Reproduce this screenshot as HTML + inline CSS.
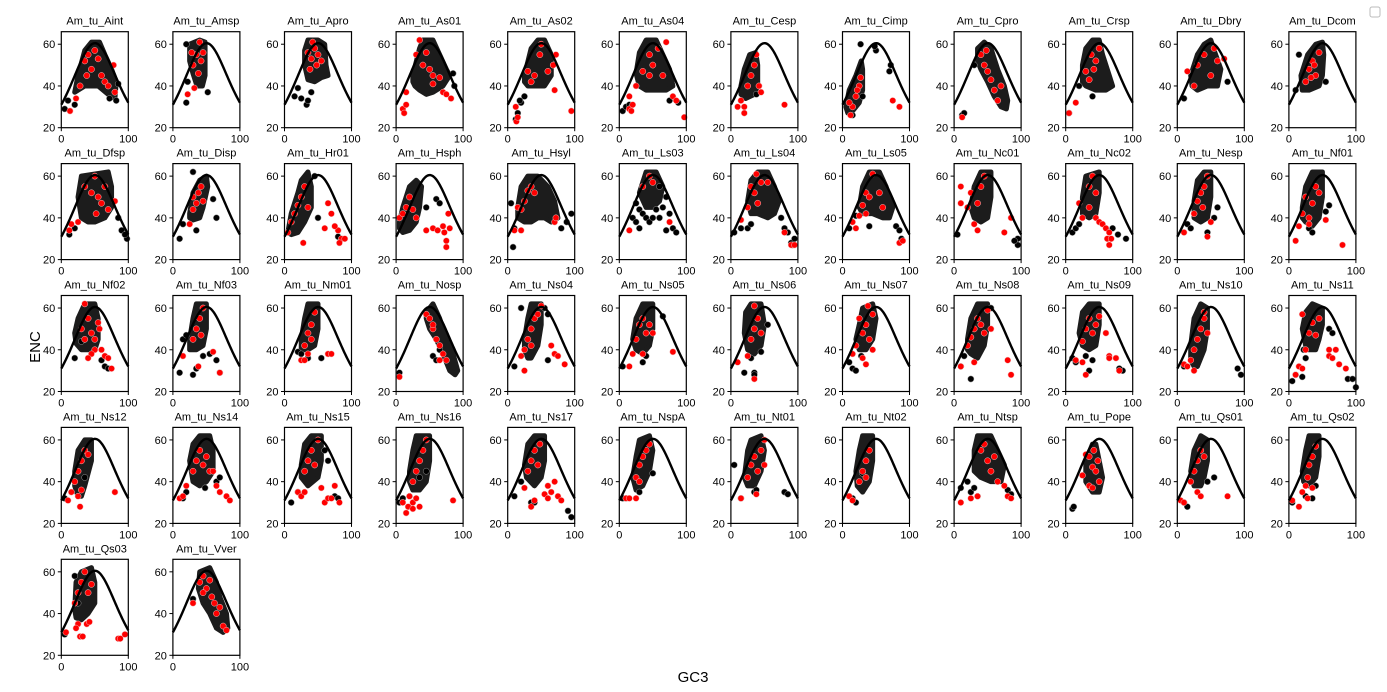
<!DOCTYPE html>
<html><head><meta charset="utf-8"><style>
html,body{margin:0;padding:0;background:#fff;}
svg{display:block;font-family:"Liberation Sans","DejaVu Sans",sans-serif;}
</style></head><body>
<svg id="chart" width="1387" height="692" viewBox="0 0 1387 692" xmlns="http://www.w3.org/2000/svg">
<rect x="1370" y="7" width="10" height="10" rx="2" fill="#fff" stroke="#bbb"/>
<text x="40" y="347" font-size="15" text-anchor="middle" transform="rotate(-90 40 347)">ENC</text>
<text x="693" y="682" font-size="15" text-anchor="middle">GC3</text>
</svg>
<script>
const panelNames = ["Am_tu_Aint","Am_tu_Amsp","Am_tu_Apro","Am_tu_As01","Am_tu_As02","Am_tu_As04","Am_tu_Cesp","Am_tu_Cimp","Am_tu_Cpro","Am_tu_Crsp","Am_tu_Dbry","Am_tu_Dcom",
"Am_tu_Dfsp","Am_tu_Disp","Am_tu_Hr01","Am_tu_Hsph","Am_tu_Hsyl","Am_tu_Ls03","Am_tu_Ls04","Am_tu_Ls05","Am_tu_Nc01","Am_tu_Nc02","Am_tu_Nesp","Am_tu_Nf01",
"Am_tu_Nf02","Am_tu_Nf03","Am_tu_Nm01","Am_tu_Nosp","Am_tu_Ns04","Am_tu_Ns05","Am_tu_Ns06","Am_tu_Ns07","Am_tu_Ns08","Am_tu_Ns09","Am_tu_Ns10","Am_tu_Ns11",
"Am_tu_Ns12","Am_tu_Ns14","Am_tu_Ns15","Am_tu_Ns16","Am_tu_Ns17","Am_tu_NspA","Am_tu_Nt01","Am_tu_Nt02","Am_tu_Ntsp","Am_tu_Pope","Am_tu_Qs01","Am_tu_Qs02",
"Am_tu_Qs03","Am_tu_Vver"];
const denseCores = [
"25,45 35,57 45,61 57,61 65,55 75,48 82,42 80,34 70,36 55,40 45,40 35,40 25,38 20,37",
"25,60 40,62 48,61 48,45 44,40 36,40 30,46 25,52",
"30,57 35,62 50,62 60,60 62,50 65,45 55,44 45,42 35,43 30,50",
"25,45 35,58 40,62 55,62 65,55 75,48 80,45 70,40 55,37 45,36 35,38 28,40 25,42",
"25,45 35,58 45,62 55,62 65,55 65,45 55,40 40,40 30,40 25,42",
"25,46 30,56 40,62 55,62 65,55 75,48 80,40 70,38 55,38 40,38 30,40",
"15,40 20,48 28,55 37,56 40,50 40,40 35,36 22,34 15,36",
"5,30 10,38 20,45 28,52 30,48 30,38 25,32 15,28 8,27",
"35,58 45,61 55,58 65,48 75,40 80,33 78,29 70,30 60,35 50,42 40,48 35,52",
"25,50 30,58 40,62 50,62 55,55 65,45 70,40 60,38 45,38 30,40 25,42",
"20,45 30,55 40,60 50,62 55,57 65,48 60,40 45,40 30,38 22,40",
"18,45 28,55 40,60 50,61 52,55 50,45 45,40 30,38 20,38",
"25,50 30,60 70,62 75,55 75,45 65,40 50,38 40,38 30,40",
"25,42 30,52 40,58 50,60 52,55 45,45 40,40 30,39 25,40",
"5,33 10,42 20,52 25,58 35,62 40,55 40,45 30,38 20,33 10,32",
"5,38 10,45 20,55 30,58 38,55 35,45 30,38 20,34 10,33 5,35",
"15,45 20,55 30,60 45,60 60,55 70,48 75,40 65,38 55,40 45,40 35,38 25,38 15,40",
"30,52 40,62 55,62 65,55 60,48 50,45 40,45",
"25,48 30,58 40,62 55,62 65,55 72,48 65,42 55,40 40,42 30,42",
"25,45 30,55 40,62 55,62 65,55 75,45 70,40 60,40 45,42 30,42",
"25,45 30,55 40,62 55,62 55,50 50,40 40,38 30,40",
"25,50 30,60 50,62 50,52 45,42 35,40 25,42",
"25,48 30,58 40,62 50,62 50,50 45,40 35,38 25,40",
"20,45 25,55 35,62 50,62 50,50 45,40 35,36 25,38 20,40",
"20,48 25,55 35,62 50,62 55,55 55,45 50,40 40,40 30,40 22,43",
"25,45 30,55 35,62 50,62 50,50 45,42 35,40 25,40",
"25,45 30,55 35,62 50,62 50,50 45,42 35,40 25,40",
"45,58 55,62 65,55 75,45 85,38 92,30 88,28 80,30 70,38 60,45 50,50 45,55",
"25,45 30,55 35,62 50,62 50,52 45,42 35,36 30,36 25,40",
"20,45 25,55 35,62 50,62 50,50 45,42 35,38 25,40",
"20,48 22,58 30,62 45,62 50,52 45,42 35,38 25,40",
"20,45 25,52 30,60 45,62 50,55 45,45 35,40 25,40",
"20,45 25,55 35,62 50,62 50,52 45,42 35,36 25,38 20,40",
"20,48 25,58 35,62 50,62 50,52 45,42 35,40 25,42",
"20,42 25,55 35,62 45,60 45,50 40,40 30,32 25,32 20,35",
"20,50 25,58 35,62 50,60 50,52 45,45 40,40 30,40 25,42",
"20,45 25,55 35,60 45,60 45,50 35,38 30,33 25,33 20,38",
"25,50 30,58 40,62 55,62 60,55 60,45 50,40 40,38 30,40",
"25,48 30,58 40,62 55,62 55,50 50,42 35,38 25,42",
"20,45 25,55 30,62 50,62 50,50 45,40 35,36 25,36 20,40",
"25,48 30,58 40,62 55,62 55,50 50,42 40,38 28,42",
"20,42 25,52 30,60 45,62 50,55 45,45 35,38 25,36",
"20,42 25,55 30,60 45,62 50,55 45,45 35,38 25,38",
"20,45 25,55 30,62 45,62 45,50 40,40 30,35 22,38",
"30,55 35,62 55,62 65,55 75,48 70,40 55,40 40,42 30,45",
"30,50 40,58 45,58 50,50 55,42 50,35 40,35 30,40",
"20,45 25,55 35,62 45,60 45,50 40,42 35,38 25,38",
"20,45 25,55 30,62 45,62 45,52 40,42 30,38 22,40",
"20,42 22,55 30,60 45,62 50,55 50,45 40,40 30,37 22,38",
"40,60 55,62 65,55 70,48 80,40 82,33 75,31 65,33 55,40 45,45 38,52"];
const blackPoints = [
"5,29 10,33 20,31 85,41 82,33 72,34",
"20,32 52,37 22,42 20,60",
"15,35 20,39 25,34 33,31 35,33 40,37",
"85,46 87,40",
"12,24 15,27 20,32 25,35 18,33",
"5,28 10,30 15,31 88,32 75,33",
"38,36",
"27,60 50,57 48,59 70,47 72,50 15,26 30,35",
"30,50 12,26 15,27",
"5,27 20,40 40,35",
"10,34 75,42",
"10,38 15,55 55,42",
"12,32 20,35 85,40 90,34 98,30 95,32",
"10,30 15,37 30,62 35,34 60,49 65,40",
"45,60 80,31 50,40",
"45,45 60,49 65,47",
"5,47 8,26 10,35 88,38 80,35 95,42",
"20,40 25,38 30,44 35,42 40,40 45,38 50,40 55,44 60,40 65,45 70,50 75,42 80,35 85,33 70,34 30,35 25,47 60,55",
"5,33 15,35 25,35 30,37 75,40 80,35 85,33 90,28 95,30 92,27",
"10,35 20,41 40,36 80,36 88,30 85,34",
"5,32 95,30 95,27 90,29",
"10,33 15,35 20,37 70,35 78,32 90,30",
"15,37 20,35 45,33 55,40 60,45",
"30,35 35,33 60,46 55,43",
"20,36 30,44 65,32 70,31 60,35",
"10,29 15,45 20,47 30,28 35,31 45,37 55,38 65,35 70,29",
"20,39 25,38 55,36 35,36",
"5,29 55,37 60,35 65,40",
"10,32 20,60 55,60 60,57 60,35",
"5,32 35,34 40,37 65,56",
"20,29 30,36 35,29 35,28 45,39 55,52",
"10,34 15,31 20,30 28,37",
"10,32 15,37 25,26 55,60",
"10,36 15,34 30,37 40,35 35,30 85,30 80,31",
"10,32 90,31 95,28",
"5,25 10,28 20,27 22,40 25,36 60,50 65,48 88,26 95,26 100,22",
"5,32 35,42",
"20,35 15,32 65,40 70,42 48,37",
"10,30 20,35 60,55 65,50 75,33 80,32",
"5,30 10,32 20,33 35,42 45,45",
"10,33 20,40 35,30 40,30 90,26 95,23",
"5,32 10,32 30,35 50,44",
"5,48 15,32 80,35 85,34 35,35 38,36",
"10,33 15,32 20,30 30,44",
"10,37 20,40 25,35 30,37 35,33 80,36 85,34",
"10,27 12,28",
"10,30 15,28 45,40 55,42",
"5,30 25,33 35,32 40,38",
"5,30 25,45 20,58",
"30,47"];
const redPoints = [
"13,28 22,34 28,40 35,52 40,55 45,48 50,57 55,53 60,45 65,42 70,40 78,50 80,37 38,45",
"22,36 32,39 30,50 35,55 38,46 42,52 45,56 40,61 28,56",
"35,56 40,53 45,58 48,50 42,61 50,55 38,48 55,52",
"10,29 12,27 15,31 15,37 30,55 35,62 40,50 45,56 50,48 55,45 65,44 70,37 75,36 82,34 55,41",
"12,30 13,23 15,25 30,47 40,45 48,55 50,60 60,47 68,50 72,55 70,38 95,28 35,42",
"15,29 18,28 20,31 15,35 25,40 35,47 45,55 50,50 58,58 65,45 70,61 80,35 85,33 97,25 45,45",
"10,30 15,33 20,30 20,27 25,40 30,45 35,50 38,55 42,40 80,31 45,37",
"12,26 15,30 20,35 25,40 27,44 22,38 75,33 85,30 10,32",
"12,25 40,55 45,50 50,47 55,43 60,38 65,33 70,40 48,57",
"5,27 15,32 30,47 38,55 45,52 42,48 35,43 50,58",
"15,47 25,40 30,50 40,55 50,45 55,58 60,52 70,53",
"25,42 30,48 35,52 40,45 45,56 38,50 33,44",
"12,34 15,37 25,38 35,55 45,52 50,60 55,50 60,47 65,55 70,44 80,48 52,42",
"25,37 30,44 35,47 38,52 42,55 30,50 45,48",
"5,33 10,38 15,42 20,46 25,50 30,55 35,45 28,28 65,47 70,42 60,35 80,34 85,30 90,30 82,28 75,36",
"5,40 10,42 15,45 20,50 25,44 30,40 45,34 55,35 62,34 70,36 72,33 75,29 75,26 78,42 80,35",
"10,34 15,45 20,44 25,48 30,53 35,55 40,52 20,34 70,38 72,40",
"15,34 35,55 45,60 50,57 75,38",
"15,39 25,45 30,55 35,52 38,61 45,57 40,47 55,57 80,33 90,27 95,27",
"15,38 20,35 25,41 30,46 35,52 40,50 45,61 55,52 60,45 85,28 90,29 35,42",
"10,47 10,55 20,45 25,52 35,47 40,55 45,60 30,37 35,34 75,33 85,40",
"20,47 25,40 35,55 40,60 45,52 35,45 45,40 50,38 55,37 60,35 65,33 62,30 68,30 65,27",
"10,33 25,42 30,48 35,52 40,55 45,60 38,45 50,38 45,31",
"10,29 15,36 20,42 25,50 30,40 35,47 40,55 45,52 30,37 55,39 80,27",
"35,62 30,50 35,45 40,55 45,48 50,45 55,53 57,50 50,40 45,38 40,36 60,40 65,37 70,36 75,31",
"15,37 30,45 35,50 40,55 45,60 42,47 38,32 60,39 70,29",
"25,35 30,35 30,42 35,48 40,52 45,58 40,45 35,38 65,38 70,38",
"5,27 45,57 50,55 55,50 60,45 65,42 70,38 75,35 55,52 65,35",
"20,37 25,40 25,30 30,45 35,50 40,55 45,57 50,61 35,42 65,42 70,38 75,37 85,33",
"15,32 20,38 25,45 30,52 35,55 40,48 45,52 35,38 50,48 80,39",
"10,34 25,37 30,45 35,50 40,55 45,48 35,61 35,26",
"15,38 20,42 25,55 30,48 35,52 40,45 45,57 35,33 30,36 38,61 45,40",
"10,32 20,42 25,46 30,50 35,55 40,52 45,48 50,59 55,50 80,35 85,28 30,34",
"15,35 25,44 30,50 35,55 40,48 45,52 50,56 60,48 65,37 65,36 75,36 80,30 30,28 25,34",
"10,33 15,32 20,35 25,30 25,40 30,45 35,50 40,55 45,48 40,58",
"10,28 15,32 20,31 20,57 25,40 30,48 35,53 40,47 45,55 60,37 65,36 60,40 75,33 85,31 70,40",
"10,31 15,35 20,40 25,45 30,50 35,55 40,53 25,33 28,28 30,36 80,35",
"10,32 15,33 20,38 30,45 35,50 40,55 45,48 50,52 55,45 65,38 70,35 80,33 85,31 60,45",
"20,35 25,33 30,35 30,45 35,50 40,55 45,48 50,60 55,37 60,30 65,32 70,32 75,38 82,30",
"10,30 15,25 18,28 20,33 25,30 25,40 30,45 35,50 40,55 45,60 30,32 35,28 85,31 25,27",
"25,37 30,45 35,50 40,55 45,48 48,58 35,28 40,31 55,34 60,38 70,40 75,33 80,31 65,35 60,32",
"10,32 15,32 25,32 25,42 30,48 35,52 40,55 45,58 30,40",
"15,32 25,42 30,48 35,52 40,45 45,55 50,60 50,48 38,34",
"10,33 15,31 25,40 30,45 35,50 40,55 35,42",
"10,30 25,32 35,33 40,55 45,58 50,50 55,45 60,52 65,40 75,38 80,33 85,32",
"30,53 35,52 40,47 45,45 35,38 40,37 50,40 48,50 42,55 25,43",
"5,31 10,30 20,40 25,45 30,50 35,55 40,52 30,35 35,33 75,33",
"5,31 15,28 20,35 25,38 28,42 30,48 35,52 40,57 28,32 35,37",
"7,31 20,45 25,50 30,55 35,60 40,50 45,54 25,35 22,33 28,29 32,29 38,35 42,36 85,28 88,28 95,30",
"30,45 40,55 45,58 50,52 55,56 58,48 62,45 65,40 70,43 75,34 80,32 45,50"];
const yTicks = [20, 40, 60];
const xTicks = [0, 100];
const xDomain = [0, 100];
const yDomain = [20, 66];

const NS = "http://www.w3.org/2000/svg";
const svg = document.getElementById("chart");
const COLS = 12, X0 = 61.3, PITCHX = 111.6, W = 67, Y0 = 31.7, PITCHY = 131.9, H = 96;
function mk(tag, attrs, parent) {
  const e = document.createElementNS(NS, tag);
  for (const k in attrs) e.setAttribute(k, attrs[k]);
  (parent || svg).appendChild(e);
  return e;
}
function parsePts(s) { return s.trim().split(/\s+/).map(p => p.split(",").map(Number)); }
function encExpected(s) { return 2 + s + 29 / (s * s + (1 - s) * (1 - s)); }

panelNames.forEach((name, i) => {
  const col = i % COLS, row = Math.floor(i / COLS);
  const left = X0 + col * PITCHX, top = Y0 + row * PITCHY;
  const xs = v => left + (v - xDomain[0]) / (xDomain[1] - xDomain[0]) * W;
  const ys = v => top + H - (v - yDomain[0]) / (yDomain[1] - yDomain[0]) * H;
  const g = mk("g", {});
  
  

  const t = mk("text", {x: left + W / 2, y: top - 7, "font-size": 11, "text-anchor": "middle"}, g);
  t.textContent = name;
  
  

  const core = mk("polygon", {points: parsePts(denseCores[i]).map(p => xs(p[0]) + "," + ys(p[1])).join(" "),
    fill: "#1c1c1c", stroke: "#1c1c1c", "stroke-width": 5, "stroke-linejoin": "round"}, g);
  
  

  parsePts(blackPoints[i]).forEach(p => {
    const c = mk("circle", {cx: xs(p[0]), cy: ys(p[1]), r: 3.1, fill: "#000", stroke: "#999", "stroke-width": 0.5}, g);
    
    
  });
  parsePts(redPoints[i]).forEach(p => {
    const c = mk("circle", {cx: xs(p[0]), cy: ys(p[1]), r: 3.1, fill: "#ff0000", stroke: "#f3c0c0", "stroke-width": 0.5}, g);
    
    
  });

  let d = "";
  for (let k = 0; k <= 100; k++) {
    const x = k, y = encExpected(k / 100);
    d += (k ? "L" : "M") + xs(x).toFixed(2) + "," + ys(y).toFixed(2);
  }
  const curve = mk("path", {d: d, fill: "none", stroke: "#000", "stroke-width": 2.4}, g);
  
  

  const frame = mk("rect", {x: left, y: top, width: W, height: H, fill: "none", stroke: "#000", "stroke-width": 1.2}, g);
  
  

  yTicks.forEach(v => {
    mk("line", {x1: left - 3.5, x2: left, y1: ys(v), y2: ys(v), stroke: "#000", "stroke-width": 1}, g);
    const lt = mk("text", {x: left - 6, y: ys(v) + 4, "font-size": 11, "text-anchor": "end"}, g);
    lt.textContent = v;
    
    
  });
  xTicks.forEach(v => {
    mk("line", {x1: xs(v), x2: xs(v), y1: top + H, y2: top + H + 3.5, stroke: "#000", "stroke-width": 1}, g);
    const lt = mk("text", {x: xs(v), y: top + H + 15, "font-size": 11, "text-anchor": "middle"}, g);
    lt.textContent = v;
    
    
  });
});
</script>
</body></html>
